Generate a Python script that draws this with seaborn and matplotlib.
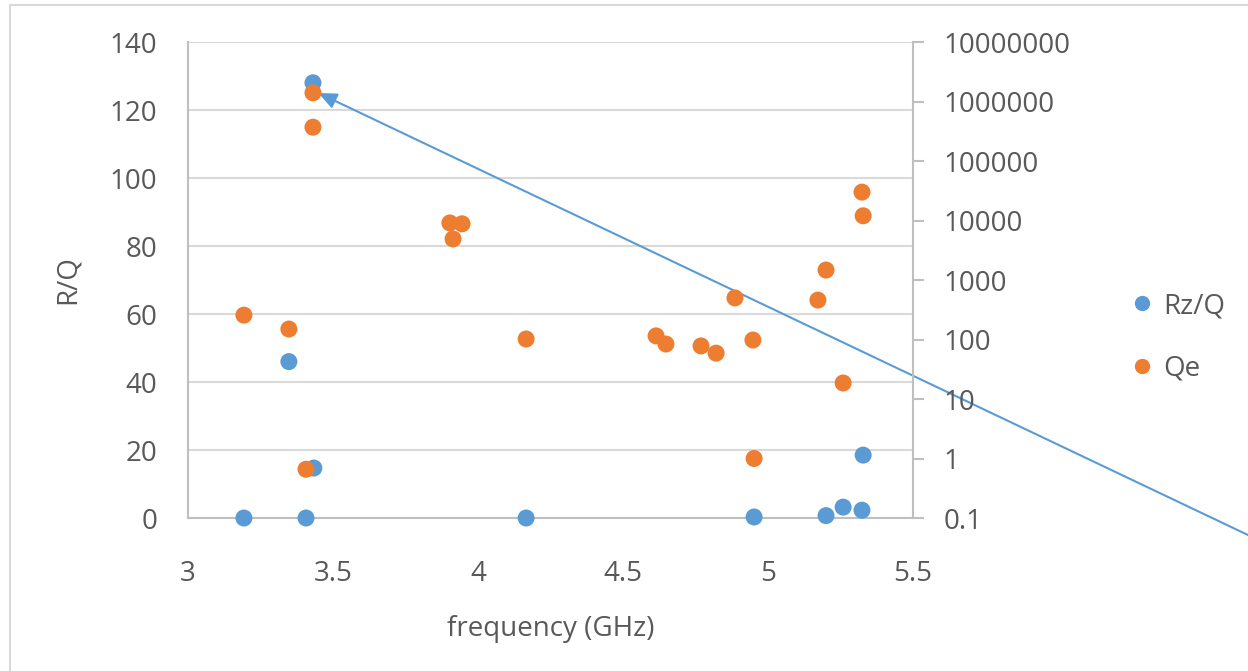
import numpy as np
import pandas as pd
import matplotlib
matplotlib.use("Agg")
import matplotlib.pyplot as plt
import seaborn as sns
from matplotlib.ticker import FixedLocator, FuncFormatter
from matplotlib.lines import Line2D
from matplotlib.patches import Rectangle

# Rz/Q series (left axis)
rz_freq = [3.193, 3.348, 3.407, 3.431, 3.434, 4.166, 4.952, 5.200, 5.259, 5.324, 5.328]
rz_q = [0.0, 46.0, 0.0, 128.0, 14.7, 0.0, 0.3, 0.7, 3.2, 2.3, 18.5]

# Qe series (right axis, log)
qe_freq = [3.193, 3.348, 3.407, 3.431, 3.431, 3.903, 3.914, 3.945, 4.166, 4.614,
           4.648, 4.769, 4.821, 4.886, 4.948, 4.952, 5.172, 5.200, 5.259, 5.324, 5.328]
qe = [257, 150, 0.66, 1.4e6, 3.7e5, 9100, 4900, 8800, 102, 115,
      84, 78, 59, 500, 98, 1.0, 460, 1470, 18.6, 30000, 12000]

x_ticks = [3, 3.5, 4, 4.5, 5, 5.5]
left_ticks = [0, 20, 40, 60, 80, 100, 120, 140]
right_ticks = [0.1, 1, 10, 100, 1000, 10000, 100000, 1000000, 10000000]

BLUE = "#5B9BD5"
ORANGE = "#ED7D31"
TXT = "#595959"
GRID = "#D9D9D9"
AXC = "#BFBFBF"
FS = 20

sns.set_style("white")
plt.rcParams["font.family"] = ["Open Sans", "DejaVu Sans"]

rz_df = pd.DataFrame({"freq": rz_freq, "val": rz_q})
qe_df = pd.DataFrame({"freq": qe_freq, "val": qe})

fig = plt.figure(figsize=(12.48, 6.71), dpi=100)
ax = fig.add_axes([0.1506, 0.228, 0.581, 0.7094])
ax2 = ax.twinx()

sns.scatterplot(data=rz_df, x="freq", y="val", ax=ax, color=BLUE, s=150,
                edgecolor="none", zorder=3, clip_on=False)
sns.scatterplot(data=qe_df, x="freq", y="val", ax=ax2, color=ORANGE, s=150,
                edgecolor="none", zorder=3, clip_on=False)

ax.set_xlim(3, 5.5)
ax.set_ylim(0, 140)
ax2.set_yscale("log")
ax2.set_ylim(0.1, 1e7)

ax.xaxis.set_major_locator(FixedLocator(x_ticks))
ax.xaxis.set_major_formatter(FuncFormatter(lambda v, p: f"{v:g}"))
ax.yaxis.set_major_locator(FixedLocator(left_ticks))
ax2.yaxis.set_major_locator(FixedLocator(right_ticks))
ax2.yaxis.set_minor_locator(FixedLocator([]))
ax2.yaxis.set_major_formatter(FuncFormatter(lambda v, p: f"{v:.0f}" if v >= 1 else f"{v:g}"))

ax.grid(axis="y", color=GRID, linewidth=1.5)
ax.set_axisbelow(True)

ax.spines["top"].set_visible(False)
ax2.spines["top"].set_visible(False)
ax.spines["right"].set_visible(False)
ax.spines["left"].set_color(AXC)
ax.spines["bottom"].set_color(AXC)
ax.spines["left"].set_linewidth(1.5)
ax.spines["bottom"].set_linewidth(1.5)
ax2.spines["left"].set_visible(False)
ax2.spines["bottom"].set_visible(False)
ax2.spines["right"].set_color(AXC)
ax2.spines["right"].set_linewidth(1.5)

ax.tick_params(axis="y", length=0, labelsize=FS, labelcolor=TXT, pad=22)
ax.tick_params(axis="x", length=0, labelsize=FS, labelcolor=TXT, pad=30)
ax2.tick_params(axis="y", which="major", length=8, width=1.5, color=AXC,
                labelsize=FS, labelcolor=TXT, pad=14, direction="out")

ax.set_xlabel("frequency (GHz)", fontsize=FS, color=TXT, labelpad=20)
ax.set_ylabel("R/Q", fontsize=FS, color=TXT, labelpad=20)
ax2.set_ylabel("")

handles = [Line2D([], [], marker="o", linestyle="", color=BLUE, markersize=10, label="Rz/Q"),
           Line2D([], [], marker="o", linestyle="", color=ORANGE, markersize=10, label="Qe")]
fig.legend(handles=handles, loc="center left", bbox_to_anchor=(0.884, 0.497),
           frameon=False, fontsize=FS, labelcolor=TXT, handletextpad=0.25,
           labelspacing=1.25, handlelength=1.0)

# annotation arrow from outside the plot to the top point
ax.annotate("", xy=(3.45, 125), xycoords="data",
            xytext=(1.0, 1 - 535 / 671), textcoords="figure fraction",
            arrowprops=dict(arrowstyle="-|>,head_length=0.5,head_width=0.22",
                            color=BLUE, lw=1.5, mutation_scale=22,
                            shrinkA=0, shrinkB=0),
            annotation_clip=False, zorder=5)

# chart area border
fig.patches.append(Rectangle((10 / 1248, -0.05), 1.2, 1 - 5 / 671 + 0.05,
                             transform=fig.transFigure, fill=False,
                             edgecolor=GRID, linewidth=1.5))

fig.savefig("out.png", dpi=100)
